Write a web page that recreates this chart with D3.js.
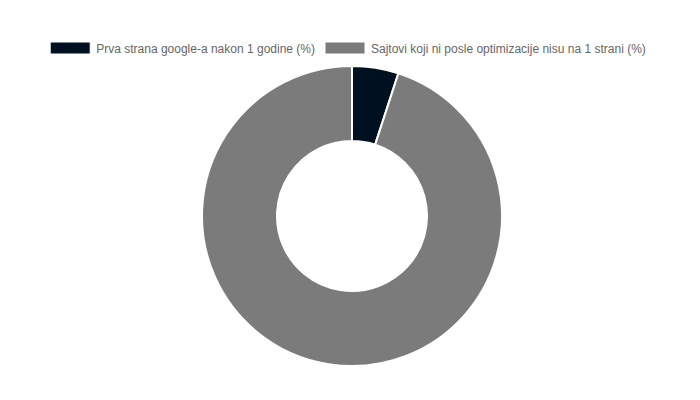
<!DOCTYPE html>
<html>
<head>
<meta charset="utf-8">
<script src="https://cdn.jsdelivr.net/npm/d3@7"></script>
<style>
  body { margin: 0; background: #fff; }
  svg { display: block; }
</style>
</head>
<body>
<div class="svg-div"></div>
<script>
// chart data
var labels = ["Prva strana google-a nakon 1 godine (%)", "Sajtovi koji ni posle optimizacije nisu na 1 strani (%)"];
var values = [5, 95];
var colors = ["#011021", "#7b7b7b"];

var w = 700;
var h = 400;
var cx = 352;
var cy = 216;
var outerR = 150;
var innerR = 75;

var svg = d3.select(".svg-div")
	.append("svg")
	.attr("width", w)
	.attr("height", h);

// doughnut
var pie = d3.pie().sort(null).value(function(d) { return d; });
var arc = d3.arc().innerRadius(innerR).outerRadius(outerR);

svg.append("g")
	.attr("transform", "translate(" + cx + "," + cy + ")")
	.selectAll("path")
	.data(pie(values))
	.enter()
	.append("path")
	.attr("d", arc)
	.attr("fill", function(d, i) { return colors[i]; })
	.attr("stroke", "#fff")
	.attr("stroke-width", 2)
	.attr("stroke-linejoin", "round");

// legend, centered on one row
var legend = svg.append("g");
var x = 0;
labels.forEach(function(lab, i) {
	var item = legend.append("g").attr("transform", "translate(" + x + ",0)");
	item.append("rect")
		.attr("x", 0)
		.attr("y", 42)
		.attr("width", 40)
		.attr("height", 12)
		.attr("fill", colors[i])
		.attr("stroke", "#fff")
		.attr("stroke-width", 1);
	var t = item.append("text")
		.attr("x", 46)
		.attr("y", 52.5)
		.attr("font-family", "'Liberation Sans', Arial, Helvetica, sans-serif")
		.attr("font-size", 12)
		.attr("fill", "#666")
		.text(lab);
	x += 46 + t.node().getComputedTextLength() + 10;
});
var total = x - 10;
legend.attr("transform", "translate(" + (348 - total / 2) + ",0)");
</script>
</body>
</html>
